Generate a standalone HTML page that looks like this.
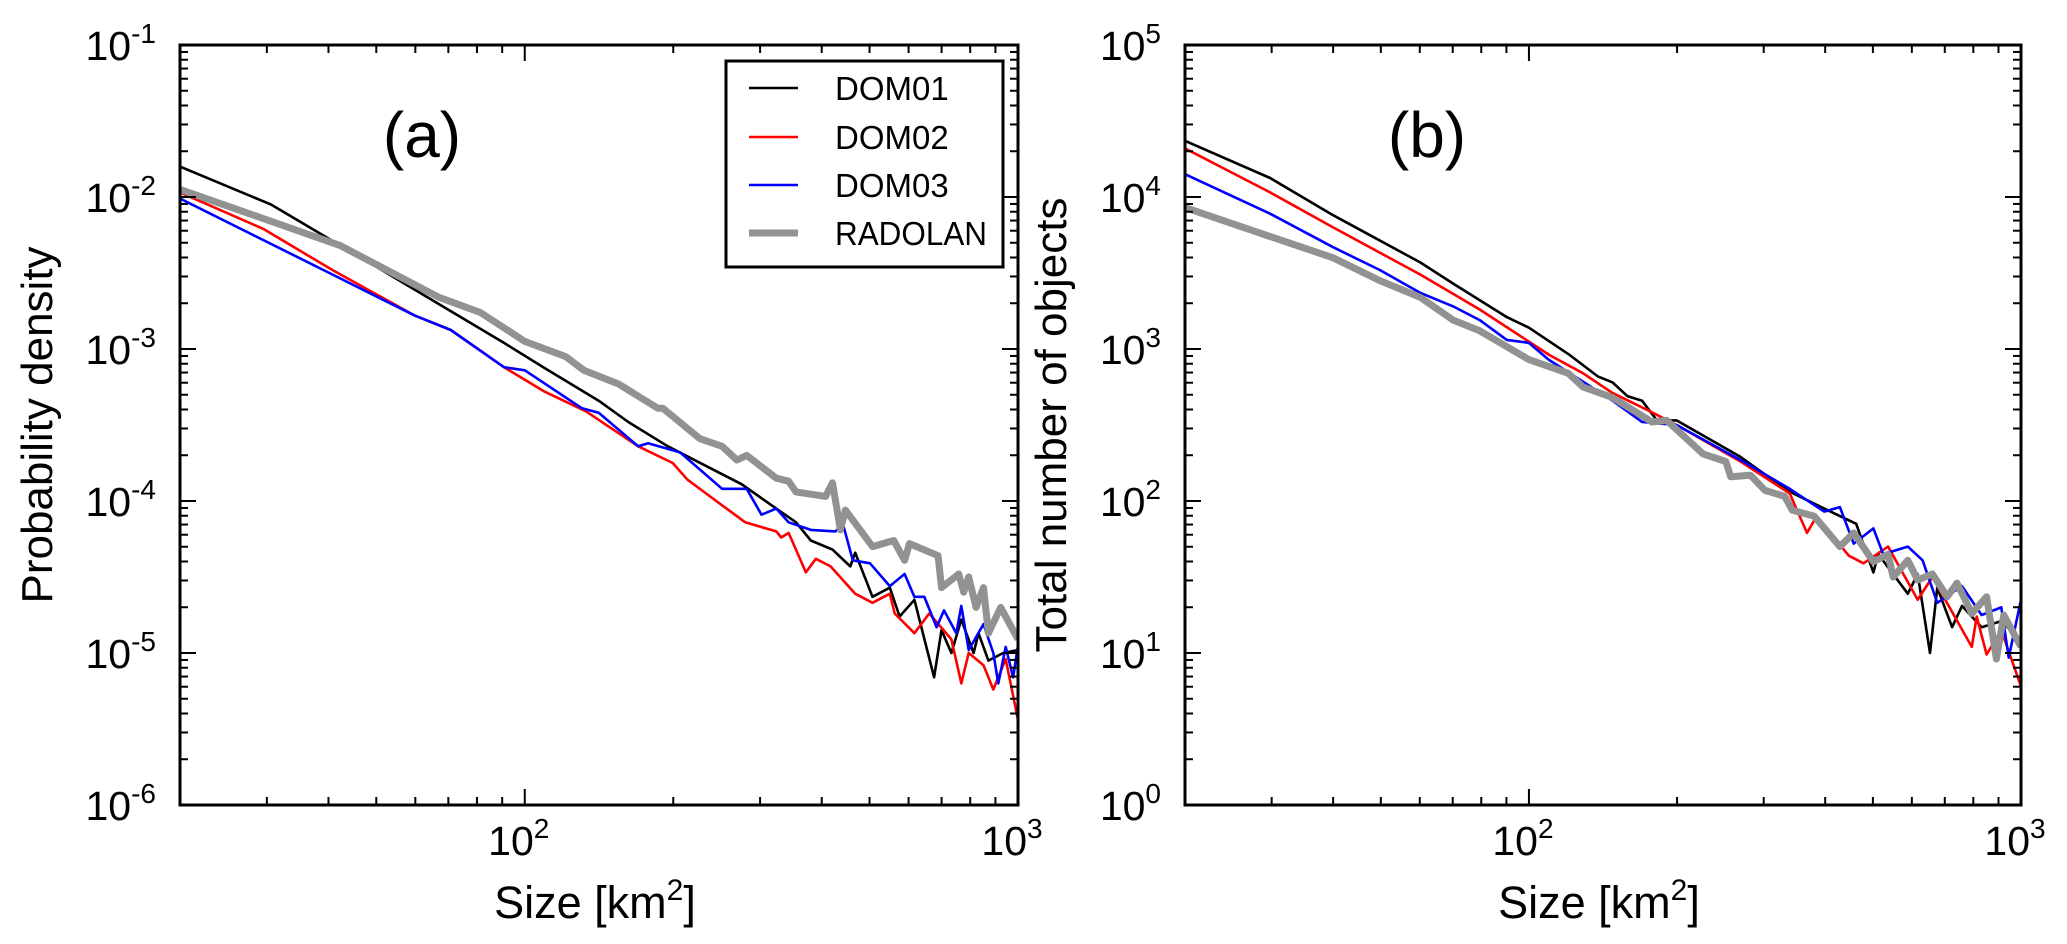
<!DOCTYPE html>
<html><head><meta charset="utf-8">
<style>
html,body{margin:0;padding:0;background:#fff;}
svg{display:block;font-family:"Liberation Sans","DejaVu Sans",sans-serif;}
</style></head>
<body>
<svg id="fig" width="2067" height="944" viewBox="0 0 2067 944" xmlns="http://www.w3.org/2000/svg">
<defs>
<clipPath id="clipA"><rect x="180" y="45" width="838" height="760"/></clipPath>
<clipPath id="clipB"><rect x="1185" y="45" width="836" height="760"/></clipPath>
</defs>
<rect width="2067" height="944" fill="#fff"/>
<g id="panelA"></g>
<g id="panelB"></g>
</svg>
<script>
// ---- data (log10 of size in km^2, log10 of value) ----
const dom01A_logSize = [1.301,1.486,1.71,1.958,2.04,2.15,2.21,2.29,2.44,2.51,2.55,2.58,2.624,2.66,2.67,2.705,2.74,2.76,2.79,2.83,2.845,2.865,2.885,2.91,2.92,2.94,2.97,3.0];
const dom01A_logDensity = [-1.80,-2.05,-2.48,-2.96,-3.125,-3.34,-3.48,-3.64,-3.89,-4.05,-4.14,-4.26,-4.32,-4.43,-4.34,-4.63,-4.57,-4.76,-4.65,-5.16,-4.85,-5.0,-4.78,-5.0,-4.87,-5.05,-5.0,-4.98];
const dom02A_logSize = [1.301,1.47,1.61,1.777,1.85,1.958,2.04,2.124,2.23,2.30,2.33,2.38,2.447,2.51,2.52,2.535,2.57,2.59,2.62,2.67,2.705,2.74,2.75,2.79,2.82,2.865,2.885,2.90,2.93,2.95,2.975,3.0];
const dom02A_logDensity = [-1.97,-2.21,-2.48,-2.78,-2.875,-3.12,-3.28,-3.41,-3.64,-3.75,-3.86,-3.98,-4.14,-4.20,-4.24,-4.21,-4.47,-4.38,-4.43,-4.61,-4.67,-4.61,-4.74,-4.87,-4.74,-4.91,-5.2,-5.0,-5.08,-5.24,-5.04,-5.44];
const dom03A_logSize = [1.301,1.61,1.777,1.85,1.958,2.0,2.116,2.15,2.23,2.25,2.315,2.40,2.45,2.48,2.51,2.535,2.58,2.63,2.645,2.665,2.70,2.74,2.77,2.79,2.81,2.835,2.85,2.875,2.885,2.90,2.93,2.95,2.96,2.975,2.99,3.0];
const dom03A_logDensity = [-2.01,-2.51,-2.78,-2.875,-3.12,-3.14,-3.39,-3.42,-3.64,-3.62,-3.68,-3.92,-3.92,-4.09,-4.05,-4.14,-4.19,-4.20,-4.15,-4.39,-4.41,-4.56,-4.48,-4.63,-4.63,-4.83,-4.72,-4.87,-4.69,-4.98,-4.81,-5.0,-5.2,-4.96,-5.16,-4.95];
const radolanA_logSize = [1.301,1.626,1.826,1.91,2.0,2.083,2.12,2.19,2.27,2.28,2.355,2.40,2.43,2.45,2.51,2.535,2.55,2.61,2.624,2.64,2.65,2.705,2.748,2.77,2.78,2.838,2.845,2.88,2.89,2.90,2.915,2.93,2.94,2.965,3.0];
const radolanA_logDensity = [-1.95,-2.32,-2.66,-2.76,-2.95,-3.05,-3.14,-3.23,-3.39,-3.39,-3.59,-3.64,-3.73,-3.70,-3.85,-3.87,-3.94,-3.97,-3.88,-4.19,-4.06,-4.30,-4.26,-4.39,-4.28,-4.36,-4.57,-4.48,-4.60,-4.50,-4.70,-4.57,-4.87,-4.70,-4.91];

const dom01B_logSize = [1.301,1.474,1.602,1.779,1.846,1.955,2.0,2.083,2.14,2.17,2.20,2.23,2.26,2.30,2.43,2.525,2.60,2.665,2.70,2.71,2.77,2.79,2.815,2.83,2.86,2.88,2.92,2.96,3.0];
const dom01B_logCount = [4.37,4.125,3.88,3.57,3.43,3.21,3.14,2.96,2.82,2.78,2.69,2.66,2.53,2.53,2.29,2.07,1.95,1.85,1.53,1.65,1.39,1.52,1.0,1.43,1.17,1.31,1.17,1.21,1.08];
const dom02B_logSize = [1.301,1.474,1.602,1.779,1.90,2.042,2.11,2.17,2.24,2.30,2.43,2.53,2.565,2.585,2.65,2.68,2.73,2.79,2.82,2.90,2.91,2.93,2.96,3.0];
const dom02B_logCount = [4.32,4.03,3.80,3.49,3.26,2.96,2.84,2.71,2.60,2.50,2.26,2.05,1.79,1.90,1.64,1.59,1.70,1.35,1.50,1.04,1.24,0.99,1.15,0.78];
const dom03B_logSize = [1.301,1.474,1.602,1.697,1.779,1.846,1.90,1.955,2.0,2.04,2.17,2.23,2.30,2.43,2.53,2.60,2.632,2.66,2.70,2.72,2.77,2.80,2.83,2.88,2.92,2.96,2.975,3.0];
const dom03B_logCount = [4.15,3.89,3.67,3.52,3.37,3.28,3.19,3.06,3.04,2.93,2.66,2.52,2.50,2.27,2.08,1.93,1.96,1.72,1.82,1.65,1.70,1.61,1.33,1.44,1.25,1.30,0.97,1.35];
const radolanB_logSize = [1.301,1.474,1.602,1.697,1.779,1.846,1.90,2.0,2.08,2.11,2.17,2.25,2.28,2.354,2.40,2.41,2.45,2.48,2.52,2.535,2.58,2.632,2.66,2.70,2.73,2.74,2.77,2.79,2.82,2.85,2.87,2.90,2.93,2.95,2.965,3.0];
const radolanB_logCount = [3.93,3.74,3.60,3.45,3.34,3.19,3.12,2.93,2.84,2.75,2.68,2.52,2.53,2.31,2.26,2.16,2.17,2.07,2.03,1.94,1.90,1.70,1.79,1.60,1.65,1.50,1.61,1.48,1.52,1.37,1.46,1.26,1.37,0.96,1.25,1.04];

const yExpA = [-1,-2,-3,-4,-5,-6];
const yExpB = [5,4,3,2,1,0];
const xExp = [2,3];
const seriesNames = ["DOM01","DOM02","DOM03","RADOLAN"];
const seriesColors = ["#000000","#ff0000","#0000ff","#929292"];
const seriesWidths = [2.6,2.6,2.6,7];

const NS = "http://www.w3.org/2000/svg";
function mk(tag, attrs, parent){
  const e = document.createElementNS(NS, tag);
  for (const k in attrs) e.setAttribute(k, attrs[k]);
  parent.appendChild(e);
  return e;
}
function powLabel(parent, x, y, anchor, exp, fs, name){
  const t = mk("text", {x:x, y:y, "text-anchor":anchor, "font-size":fs, fill:"#000"}, parent);
  
  
  t.appendChild(document.createTextNode("10"));
  const s = mk("tspan", {"font-size":Math.round(fs*0.68), dy:-fs*0.42}, t);
  s.textContent = String(exp);
  return t;
}

function panel(g, cfg){
  const {x0,x1,y0,y1,ymin,ymax,clip,series,yExp,yTitle,yTitleX,label,labelX} = cfg;
  const xmin = Math.log10(20), xmax = 3;
  const sx = v => x0 + (v - xmin) / (xmax - xmin) * (x1 - x0);
  const sy = v => y1 - (v - ymin) / (ymax - ymin) * (y1 - y0);
  const lg = mk("g", {"clip-path":"url(#"+clip+")"}, g);
  series.forEach((s, i) => {
    const d = s.xs.map((v, j) => (j ? "L" : "M") + sx(v).toFixed(1) + "," + sy(s.ys[j]).toFixed(1)).join("");
    const p = mk("path", {d:d, fill:"none", stroke:seriesColors[i], "stroke-width":seriesWidths[i], "stroke-linejoin":"round"}, lg);
    
    
  });
  const tg = mk("g", {stroke:"#000", "stroke-width":2}, g);
  
  
  for (let e = ymin; e <= ymax; e++) {
    for (let m = 1; m <= 9; m++) {
      const v = e + Math.log10(m);
      if (v > ymax + 1e-9) break;
      const y = sy(v), L = m === 1 ? 16 : 8;
      mk("line", {x1:x0, x2:x0+L, y1:y, y2:y}, tg);
      mk("line", {x1:x1, x2:x1-L, y1:y, y2:y}, tg);
    }
  }
  for (let e = 1; e <= 3; e++) {
    for (let m = 1; m <= 9; m++) {
      const v = e + Math.log10(m);
      if (v < xmin - 1e-9 || v > xmax + 1e-9) continue;
      const x = sx(v), L = m === 1 ? 16 : 8;
      mk("line", {x1:x, x2:x, y1:y1, y2:y1-L}, tg);
      mk("line", {x1:x, x2:x, y1:y0, y2:y0+L}, tg);
    }
  }
  const fr = mk("rect", {x:x0, y:y0, width:x1-x0, height:y1-y0, fill:"none", stroke:"#000", "stroke-width":3}, g);
  
  
  yExp.forEach(e => { powLabel(g, x0 - 24, sy(e) + 15, "end", e, 41, "y-tick-label"); });
  xExp.forEach(e => { powLabel(g, sx(e) - 6, y1 + 50, "middle", e, 41, "x-tick-label"); });
  const xt = mk("text", {x:(x0+x1)/2 - 4, y:918, "text-anchor":"middle", "font-size":45}, g);
  
  
  xt.appendChild(document.createTextNode("Size [km"));
  const sup = mk("tspan", {"font-size":30, dy:-18}, xt); sup.textContent = "2";
  const cl = mk("tspan", {dy:18}, xt); cl.textContent = "]";
  const yt = mk("text", {x:0, y:0, "text-anchor":"middle", "font-size":44, transform:"translate("+yTitleX+","+((y0+y1)/2)+") rotate(-90)"}, g);
  
  
  yt.textContent = yTitle;
  const pl = mk("text", {x:labelX, y:157, "text-anchor":"middle", "font-size":64}, g);
  
  
  pl.textContent = label;
}

panel(document.getElementById("panelA"), {
  x0:180, x1:1018, y0:45, y1:805, ymin:-6, ymax:-1, clip:"clipA", yExp:yExpA,
  yTitle:"Probability density", yTitleX:52, label:"(a)", labelX:422,
  series:[{xs:dom01A_logSize, ys:dom01A_logDensity},{xs:dom02A_logSize, ys:dom02A_logDensity},
          {xs:dom03A_logSize, ys:dom03A_logDensity},{xs:radolanA_logSize, ys:radolanA_logDensity}]
});
panel(document.getElementById("panelB"), {
  x0:1185, x1:2021, y0:45, y1:805, ymin:0, ymax:5, clip:"clipB", yExp:yExpB,
  yTitle:"Total number of objects", yTitleX:1066, label:"(b)", labelX:1427,
  series:[{xs:dom01B_logSize, ys:dom01B_logCount},{xs:dom02B_logSize, ys:dom02B_logCount},
          {xs:dom03B_logSize, ys:dom03B_logCount},{xs:radolanB_logSize, ys:radolanB_logCount}]
});

const svg = document.getElementById("fig");
const leg = mk("g", {}, svg);


mk("rect", {x:726, y:61, width:277, height:206, fill:"#fff", stroke:"#000", "stroke-width":3}, leg);
const legRowsY = [88,137,185,233];
seriesNames.forEach((n, i) => {
  const row = mk("g", {}, leg);
  
  
  mk("line", {x1:749, x2:798, y1:legRowsY[i], y2:legRowsY[i], stroke:seriesColors[i], "stroke-width":seriesWidths[i]}, row);
  const t = mk("text", {x:835, y:legRowsY[i]+12, "font-size":33}, row);
  if (n === "RADOLAN") { t.setAttribute("textLength", "152"); t.setAttribute("lengthAdjust", "spacingAndGlyphs"); }
  t.textContent = n;
});
</script>
</body></html>
